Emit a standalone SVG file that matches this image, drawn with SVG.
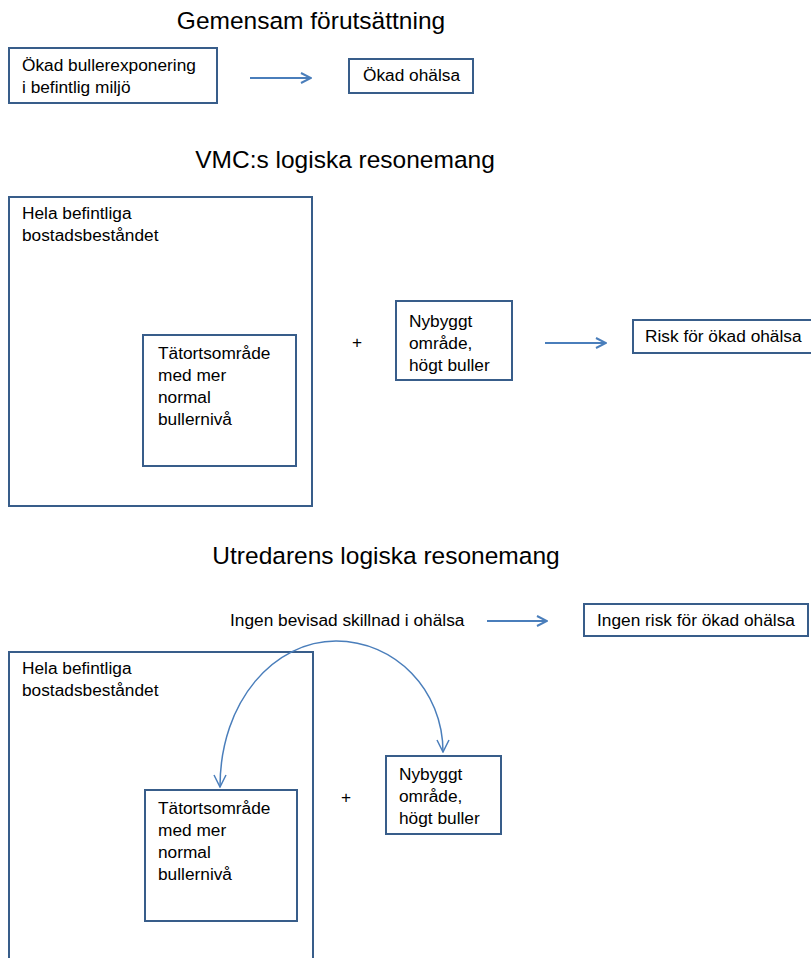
<svg xmlns="http://www.w3.org/2000/svg" width="811" height="958" viewBox="0 0 811 958">
<style>
text{font-family:"Liberation Sans",Arial,sans-serif;fill:#000}
.t{font-size:24.5px;text-anchor:middle}
.b{font-size:17.3px}
.box{fill:#fff;stroke:#385D8A;stroke-width:2}
.ar{fill:none;stroke:#4A7EBB;stroke-width:2}
.cv{fill:none;stroke:#4A7EBB;stroke-width:1.5}
</style>
<defs>
<marker id="ah" viewBox="0 0 12 12" refX="11" refY="6" markerWidth="12" markerHeight="12" markerUnits="userSpaceOnUse" orient="auto">
<path d="M1,1 L11,6 L1,11" fill="none" stroke="#4A7EBB" stroke-width="2"/>
</marker>
<marker id="ah2" viewBox="0 0 14 14" refX="13" refY="7" markerWidth="14" markerHeight="14" markerUnits="userSpaceOnUse" orient="auto">
<path d="M1,1 L13,7 L1,13" fill="none" stroke="#4A7EBB" stroke-width="1.5"/>
</marker>
</defs>
<text class="t" x="311" y="29">Gemensam förutsättning</text>
<text class="t" x="345" y="168">VMC:s logiska resonemang</text>
<text class="t" x="386" y="564">Utredarens logiska resonemang</text>
<g id="n1"><rect class="box" x="9" y="48" width="208" height="55"/><text class="b" x="22" y="71">Ökad bullerexponering</text><text class="b" x="22" y="93">i befintlig miljö</text></g>
<g id="n2"><rect class="box" x="349" y="59" width="124" height="34"/><text class="b" x="363" y="81">Ökad ohälsa</text></g>
<g id="n3"><rect class="box" x="9" y="197" width="303" height="309"/><text class="b" x="22" y="219">Hela befintliga</text><text class="b" x="22" y="241">bostadsbeståndet</text></g>
<g id="n4"><rect class="box" x="143" y="335" width="153" height="131"/><text class="b" x="158" y="359">Tätortsområde</text><text class="b" x="158" y="381">med mer</text><text class="b" x="158" y="403">normal</text><text class="b" x="158" y="425">bullernivå</text></g>
<text class="b" x="352" y="348">+</text>
<g id="n5"><rect class="box" x="396" y="301" width="116" height="79"/><text class="b" x="409" y="327">Nybyggt</text><text class="b" x="409" y="349">område,</text><text class="b" x="409" y="371">högt buller</text></g>
<g id="n6"><rect class="box" x="633" y="320" width="180" height="33"/><text class="b" x="645" y="342">Risk för ökad ohälsa</text></g>
<g id="n7"><text class="b" x="230" y="626">Ingen bevisad skillnad i ohälsa</text></g>
<g id="n8"><rect class="box" x="584" y="604" width="224" height="32"/><text class="b" x="597" y="626">Ingen risk för ökad ohälsa</text></g>
<g id="n9"><rect class="box" x="9" y="652" width="304" height="320"/><text class="b" x="22" y="674">Hela befintliga</text><text class="b" x="22" y="696">bostadsbeståndet</text></g>
<g id="n10"><rect class="box" x="145" y="790" width="152" height="131"/><text class="b" x="158" y="814">Tätortsområde</text><text class="b" x="158" y="836">med mer</text><text class="b" x="158" y="858">normal</text><text class="b" x="158" y="880">bullernivå</text></g>
<text class="b" x="341" y="803">+</text>
<g id="n11"><rect class="box" x="386" y="756" width="115" height="78"/><text class="b" x="399" y="780">Nybyggt</text><text class="b" x="399" y="802">område,</text><text class="b" x="399" y="824">högt buller</text></g>
<g id="connectors">
<line class="ar" x1="250" y1="78" x2="311" y2="78" marker-end="url(#ah)"/>
<line class="ar" x1="545" y1="343" x2="606" y2="343" marker-end="url(#ah)"/>
<line class="ar" x1="487" y1="621" x2="547" y2="621" marker-end="url(#ah)"/>
<path class="cv" d="M336,641 C275,641 220,700 220,787" marker-end="url(#ah2)"/>
<path class="cv" d="M336,641 C395,641 443,690 443,752" marker-end="url(#ah2)"/>
</g>
</svg>
